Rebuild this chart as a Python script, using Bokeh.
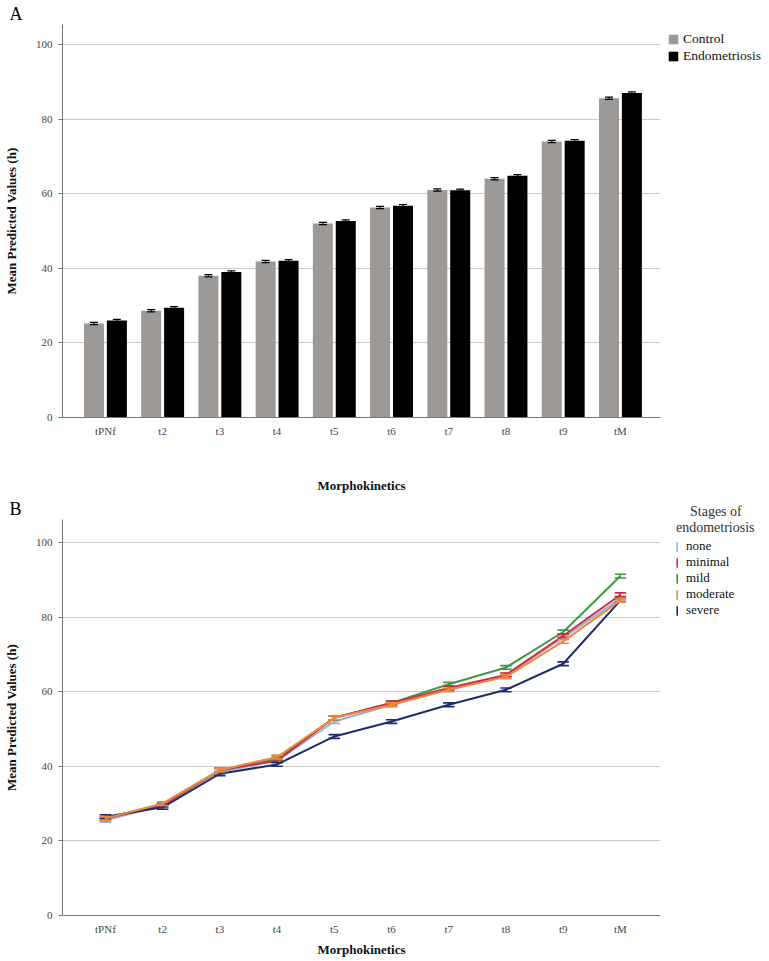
import numpy as np
from bokeh.plotting import figure
from bokeh.models import Legend, LegendItem, FixedTicker, SingleIntervalTicker, Title
from bokeh.layouts import column
from bokeh.embed import file_html
from bokeh.resources import INLINE

# ---------------- data ----------------
categories = ["tPNf", "t2", "t3", "t4", "t5", "t6", "t7", "t8", "t9", "tM"]

control = [25.2, 28.6, 38.0, 41.8, 52.0, 56.3, 61.0, 64.0, 74.0, 85.6]
control_err = [0.3, 0.3, 0.3, 0.3, 0.3, 0.3, 0.3, 0.3, 0.3, 0.3]
endometriosis = [26.0, 29.4, 39.0, 42.0, 52.7, 56.8, 60.9, 64.8, 74.2, 87.0]
endometriosis_err = [0.3, 0.3, 0.3, 0.3, 0.3, 0.3, 0.3, 0.3, 0.3, 0.3]

stage_names = ["none", "minimal", "mild", "moderate", "severe"]
stage_none = [25.5, 29.5, 38.5, 41.5, 52.0, 56.5, 61.0, 64.5, 74.5, 85.0]
stage_minimal = [26.0, 29.5, 39.0, 41.5, 53.0, 57.0, 61.0, 64.5, 75.0, 86.0]
stage_mild = [26.0, 30.0, 39.0, 42.0, 53.0, 57.0, 62.0, 66.5, 76.0, 91.0]
stage_moderate = [26.0, 30.0, 39.0, 42.5, 53.0, 56.5, 60.5, 64.0, 73.5, 84.5]
stage_severe = [26.5, 29.0, 38.0, 40.5, 48.0, 52.0, 56.5, 60.5, 67.5, 84.5]
stage_err = [0.5, 0.5, 0.5, 0.5, 0.5, 0.5, 0.5, 0.5, 0.5, 0.5]

# ---------------- style ----------------
FONT = "Liberation Serif"
GRAY = "#9d9997"
PX_PER_UNIT = 3.73
FRAME_W = 598
LEFT = 54
xs = np.arange(len(categories))
X_RANGE = (-0.75, 9.7)


def style_axes(p, tick_standoff, label_standoff):
    p.outline_line_color = None
    p.xgrid.grid_line_color = None
    p.ygrid.grid_line_color = "#c9c9c9"
    p.ygrid.grid_line_width = 1.2
    p.yaxis.ticker = SingleIntervalTicker(interval=20)
    p.xaxis.ticker = FixedTicker(ticks=list(range(len(categories))))
    p.xaxis.major_label_overrides = {i: c for i, c in enumerate(categories)}
    for ax in (p.xaxis[0], p.yaxis[0]):
        ax.major_label_text_font = FONT
        ax.major_label_text_font_size = "11px"
        ax.major_label_text_color = "#444444"
        ax.axis_label_text_font = FONT
        ax.axis_label_text_font_size = "13px"
        ax.axis_label_text_font_style = "bold"
        ax.axis_label_text_color = "#111111"
        ax.axis_line_color = "#777777"
        ax.minor_tick_line_color = None
    p.xaxis.major_tick_line_color = None
    p.xaxis.major_tick_out = 0
    p.xaxis.major_tick_in = 0
    p.yaxis.major_tick_line_color = "#777777"
    p.yaxis.major_tick_out = 4
    p.yaxis.major_tick_in = 0
    p.xaxis.major_label_standoff = tick_standoff
    p.yaxis.major_label_standoff = 6
    p.xaxis.axis_label = "Morphokinetics"
    p.yaxis.axis_label = "Mean Predicted Values (h)"
    p.xaxis.axis_label_standoff = label_standoff
    p.yaxis.axis_label_standoff = 14


def panel_title(text):
    return Title(text=text, align="left", offset=-LEFT + 1, standoff=2,
                 text_font=FONT, text_font_size="18px", text_font_style="normal",
                 text_color="black")


# ---------------- panel A ----------------
fh_a = 393
pa = figure(frame_width=FRAME_W, frame_height=fh_a, x_range=X_RANGE,
            y_range=(0, fh_a / PX_PER_UNIT), output_backend="svg",
            toolbar_location=None, min_border_left=LEFT, min_border_top=0,
            min_border_bottom=10, min_border_right=0, background_fill_color="white")
pa.add_layout(panel_title("A"), "above")
style_axes(pa, 7, 38)

off = 0.2
bw = 0.35
r_c = pa.vbar(x=xs - off, top=control, width=bw, fill_color=GRAY, line_color=None)
r_e = pa.vbar(x=xs + off, top=endometriosis, width=bw, fill_color="black", line_color=None)
for shift, vals, errs in ((-off, control, control_err), (off, endometriosis, endometriosis_err)):
    v = np.array(vals)
    e = np.array(errs)
    pa.segment(x0=xs + shift, x1=xs + shift, y0=v - e, y1=v + e, line_color="black", line_width=1)
    for cap in (v - e, v + e):
        pa.segment(x0=xs + shift - 0.07, x1=xs + shift + 0.07, y0=cap, y1=cap,
                   line_color="black", line_width=1.2)

leg_a = Legend(items=[LegendItem(label="Control", renderers=[r_c]),
                      LegendItem(label="Endometriosis", renderers=[r_e])],
               location="top_left", margin=7, padding=8, spacing=1,
               glyph_width=12, glyph_height=12, label_height=13,
               label_text_font=FONT, label_text_font_size="13.5px", label_text_color="#111111",
               label_standoff=4, border_line_color=None, background_fill_alpha=0)
pa.add_layout(leg_a, "right")

# ---------------- panel B ----------------
fh_b = 396
pb = figure(frame_width=FRAME_W, frame_height=fh_b, x_range=X_RANGE,
            y_range=(0, fh_b / PX_PER_UNIT), output_backend="svg",
            toolbar_location=None, min_border_left=LEFT, min_border_top=0,
            min_border_bottom=46, min_border_right=0, background_fill_color="white")
pb.add_layout(panel_title("B"), "above")
style_axes(pb, 7, 4)

series = {
    "none": (stage_none, "#93b3dc"),
    "minimal": (stage_minimal, "#d12a4a"),
    "mild": (stage_mild, "#3f9a3f"),
    "moderate": (stage_moderate, "#ec8a3c"),
    "severe": (stage_severe, "#1f2d6e"),
}
draw_order = ["none", "mild", "minimal", "severe", "moderate"]
for name in draw_order:
    vals, col = series[name]
    v = np.array(vals)
    e = np.array(stage_err)
    pb.line(xs, v, line_color=col, line_width=2)
    pb.segment(x0=xs, x1=xs, y0=v - e, y1=v + e, line_color=col, line_width=1.2)
    for cap in (v - e, v + e):
        pb.segment(x0=xs - 0.1, x1=xs + 0.1, y0=cap, y1=cap, line_color=col, line_width=1.6)

items_b = []
for name in stage_names:
    vals, col = series[name]
    r = pb.vbar(x=[np.nan], top=[np.nan], width=0.1, fill_color=col, line_color=col, line_width=0.5)
    items_b.append(LegendItem(label=name, renderers=[r]))
leg_b = Legend(items=items_b, location=(16, 297), margin=0, padding=4, spacing=0,
               glyph_width=2, glyph_height=11, label_height=13,
               title="\u00a0\u00a0\u00a0\u00a0Stages of\nendometriosis", title_location="above",
               title_text_font=FONT, title_text_font_size="14px", title_text_font_style="normal",
               title_text_color="#333333", title_standoff=2,
               label_text_font=FONT, label_text_font_size="13px", label_text_color="#111111",
               label_standoff=8, border_line_color=None, background_fill_alpha=0)
pb.add_layout(leg_b, "right")

p = column(pa, pb, spacing=0)
open("out.html", "w").write(file_html(p, INLINE))
